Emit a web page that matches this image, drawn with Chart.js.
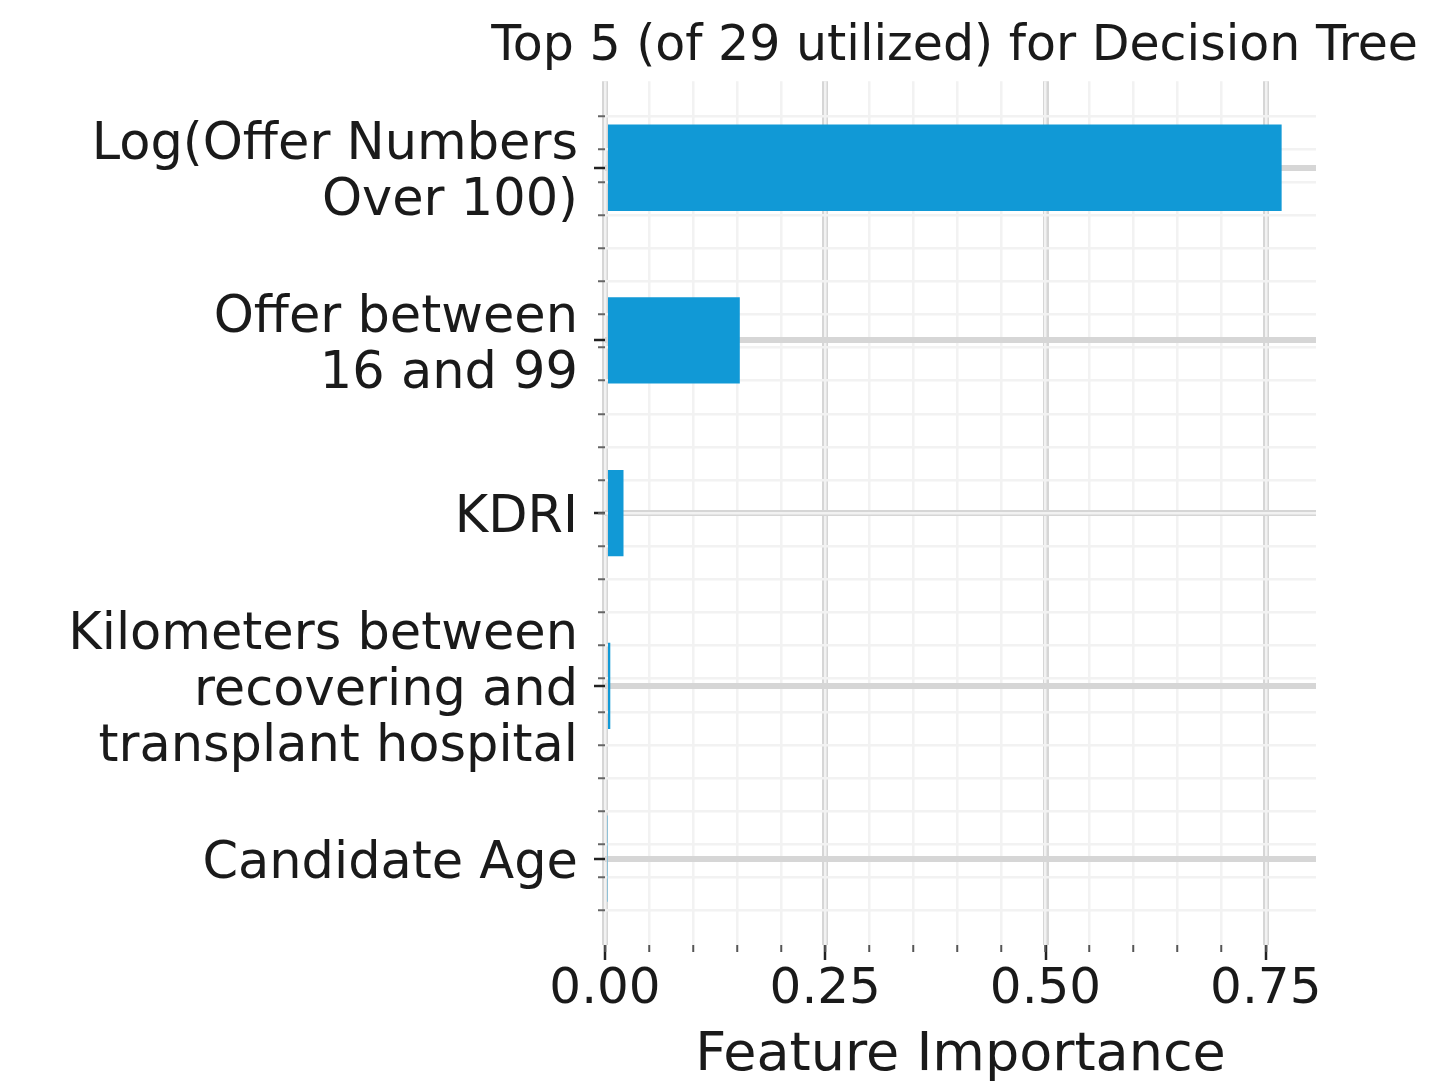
<!DOCTYPE html>
<html lang="en">
<head>
  <meta charset="UTF-8" />
  <title>Top 5 (of 29 utilized) for Decision Tree</title>
  <script src="https://cdn.jsdelivr.net/npm/chart.js"></script>
  <style>
    body { margin: 0; background: #fff; }
    #wrap { width: 1452px; height: 1083px; }
  </style>
</head>
<body>
<div id="wrap"><canvas id="chart"></canvas></div>
<script>
  const features = [
    ['Log(Offer Numbers', 'Over 100)'],
    ['Offer between', '16 and 99'],
    'KDRI',
    ['Kilometers between', 'recovering and', 'transplant hospital'],
    'Candidate Age'
  ];
  const importance = [0.768, 0.153, 0.021, 0.006, 0.003];
  const majorTicks = [0, 0.25, 0.5, 0.75];
  const xMax = 0.807;

  Chart.defaults.font.family = 'DejaVu Sans';
  Chart.defaults.color = '#1a1a1a';

  const ctx = document.getElementById('chart').getContext('2d');

  new Chart(ctx, {
    type: 'bar',
    data: {
      labels: features,
      datasets: [{
        data: importance,
        backgroundColor: '#1199d6',
        categoryPercentage: 1,
        barPercentage: 0.5
      }]
    },
    options: {
      indexAxis: 'y',
      responsive: true,
      maintainAspectRatio: false,
      animation: false,
      layout: { padding: { left: 0, right: 34, top: 0, bottom: 0 } },
      plugins: {
        legend: { display: false },
        tooltip: { enabled: false },
        title: {
          display: true,
          text: 'Top 5 (of 29 utilized) for Decision Tree',
          align: 'end',
          color: '#1a1a1a',
          font: { size: 49, weight: 'normal', lineHeight: 1.17 },
          padding: { top: 19, bottom: 5 }
        }
      },
      scales: {
        x: {
          type: 'linear',
          position: 'bottom',
          min: 0,
          max: xMax,
          weight: 1,
          afterBuildTicks: s => { s.ticks = majorTicks.map(v => ({ value: v })); },
          afterFit: s => { s.height = 138; },
          grid: { color: '#d6d6d6', lineWidth: 6, tickColor: '#222', tickWidth: 2.5, tickLength: 15 },
          border: { display: false },
          ticks: {
            callback: v => v.toFixed(2),
            font: { size: 50 },
            padding: 0,
            maxRotation: 0,
            autoSkip: false
          },
          title: {
            display: true,
            text: 'Feature Importance',
            font: { size: 54, lineHeight: 1 },
            padding: { top: 0, bottom: 0 }
          }
        },
        // minor vertical grid, every 0.05
        x2: {
          type: 'linear',
          position: 'bottom',
          min: 0,
          max: xMax,
          weight: 0,
          z: -1,
          afterBuildTicks: s => { s.ticks = s.ticks.filter(t => t.value <= 0.8 + 1e-9); },
          afterFit: s => { s.height = 0; },
          ticks: { stepSize: 0.05, display: false },
          grid: { color: '#f2f2f2', lineWidth: 2.5, tickColor: '#555', tickWidth: 2, tickLength: 7 },
          border: { display: false }
        },
        y: {
          type: 'category',
          position: 'left',
          weight: 1,
          afterFit: s => { s.width = 605; },
          grid: { offset: false, color: '#d6d6d6', lineWidth: 6, tickColor: '#222', tickWidth: 2.5, tickLength: 11 },
          border: { display: false },
          ticks: { font: { size: 51, lineHeight: 1.1 }, padding: 16, labelOffset: 6, autoSkip: false }
        },
        // minor horizontal grid, every 0.2 category
        y2: {
          type: 'linear',
          position: 'left',
          min: -0.5,
          max: 4.5,
          reverse: true,
          weight: 0,
          z: -1,
          afterBuildTicks: s => { s.ticks = s.ticks.filter(t => t.value > -0.49 && t.value < 4.49); },
          afterFit: s => { s.width = 0; },
          ticks: { stepSize: 0.2, display: false },
          grid: { color: '#f2f2f2', lineWidth: 2.5, tickColor: '#666', tickWidth: 2, tickLength: 7 },
          border: { display: false }
        },
        // empty right margin so the plot ends where the reference does
        yPad: {
          type: 'linear',
          position: 'right',
          afterFit: s => { s.width = 102; },
          grid: { display: false },
          ticks: { display: false },
          border: { display: false }
        }
      }
    }
  });
</script>
</body>
</html>
